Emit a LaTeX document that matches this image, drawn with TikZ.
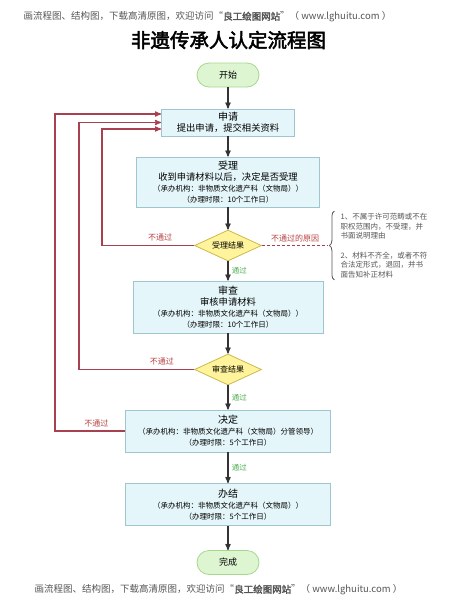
\documentclass[tikz,border=0pt]{standalone}
\usepackage{fontspec}
\setmainfont{Noto Sans CJK SC}[AutoFakeBold=2.5]
\usetikzlibrary{arrows,shapes,positioning,decorations.pathreplacing}

\definecolor{procfill}{HTML}{E4F6F9}
\definecolor{procdraw}{HTML}{9FC6CE}
\definecolor{termfill}{HTML}{DDF5D1}
\definecolor{termdraw}{HTML}{A6D78D}
\definecolor{decfill}{HTML}{FFF49C}
\definecolor{decdraw}{HTML}{CDB84A}
\definecolor{failred}{HTML}{A8404F}
\definecolor{failtxt}{HTML}{B5413F}
\definecolor{passtxt}{HTML}{4CAF50}
\definecolor{inkgray}{HTML}{555555}

\newcommand{\hd}[1]{{\fontsize{10}{11}\selectfont #1}}
\newcommand{\bd}[1]{{\fontsize{9.3}{11}\selectfont #1}}

\tikzstyle{terminal}=[rectangle,rounded corners=12pt,draw=termdraw,fill=termfill,thick,minimum width=62pt,minimum height=24pt,font=\fontsize{9}{11}\selectfont]
\tikzstyle{proc}=[rectangle,draw=procdraw,fill=procfill,thick,align=center,inner sep=2pt,font=\fontsize{7.5}{11}\selectfont]
\tikzstyle{decision}=[diamond,draw=decdraw,fill=decfill,thick,minimum width=67pt,minimum height=31pt,inner sep=1pt,aspect=2,font=\fontsize{8}{10}\selectfont]
\tikzstyle{flow}=[->,draw=black!80,line width=1.2pt]
\tikzstyle{fail}=[->,draw=failred,line width=1.2pt]
\tikzstyle{failtext}=[text=failtxt,font=\fontsize{8}{10}\selectfont]
\tikzstyle{passtext}=[text=passtxt,font=\fontsize{7.5}{9}\selectfont]
\tikzstyle{note}=[align=left,text=inkgray,inner sep=2pt,font=\fontsize{7.5}{9.5}\selectfont]

\begin{document}
\begin{tikzpicture}[x=1pt,y=1pt,>=stealth']
  \useasboundingbox (0,0) rectangle (455,-600);
  % header and title
  \node [text=inkgray,font=\fontsize{9.5}{12}\selectfont] (head) at (207.5,-17) {画流程图、结构图，下载高清原图，欢迎访问“\textbf{良工绘图网站}”（ www.lghuitu.com ）};
  \node [font=\fontsize{19.5}{24}\selectfont\bfseries] (title) at (228.5,-40) {非遗传承人认定流程图};

  % main flow
  \node [terminal] (start) at (228,-75) {开始};
  \node [proc,minimum width=133pt,minimum height=27pt] (apply) [below of=start,node distance=47.5pt]
        {\hd{申请}\\\bd{提出申请，提交相关资料}};
  \node [proc,minimum width=183pt,minimum height=50pt] (accept) [below of=apply,node distance=59.5pt]
        {\hd{受理}\\\bd{收到申请材料以后，决定是否受理}\\（承办机构：非物质文化遗产科（文物局））\\（办理时限：10个工作日）};
  \node [decision] (check1) [below of=accept,node distance=63.5pt] {受理结果};
  \node [proc,minimum width=190pt,minimum height=52pt] (review) [below of=check1,node distance=61.5pt]
        {\hd{审查}\\\bd{审核申请材料}\\（承办机构：非物质文化遗产科（文物局））\\（办理时限：10个工作日）};
  \node [decision] (check2) [below of=review,node distance=62.5pt] {审查结果};
  \node [proc,minimum width=205pt,minimum height=42pt] (decide) [below of=check2,node distance=61.5pt]
        {\hd{决定}\\（承办机构：非物质文化遗产科（文物局）分管领导）\\（办理时限：5个工作日）};
  \node [proc,minimum width=205pt,minimum height=42pt] (finish) [below of=decide,node distance=73.5pt]
        {\hd{办结}\\（承办机构：非物质文化遗产科（文物局））\\（办理时限：5个工作日）};
  \node [terminal] (done) [below of=finish,node distance=58pt] {完成};

  % reasons for refusal
  \node [note] (reason) [right=76.5pt of check1]
        {1、不属于许可范畴或不在\\职权范围内，不受理，并\\书面说明理由\\[10pt]2、材料不齐全，或者不符\\合法定形式，退回，并书\\面告知补正材料};
  \draw [inkgray,thick,decorate,decoration={brace,amplitude=5pt}]
        ([xshift=-4pt]reason.south west) -- ([xshift=-4pt]reason.north west);
  \coordinate (tip) at ([xshift=-10pt]reason.west);

  % return loops
  \coordinate (loop1) at (102,-245);
  \coordinate (loop2) at (79,-369);
  \coordinate (loop3) at (55,-431);

  \path (start) edge [flow] (apply)
        (apply) edge [flow] (accept)
        (accept) edge [flow] (check1)
        (check1) edge [flow] node [right,passtext] {通过} (review)
        (review) edge [flow] (check2)
        (check2) edge [flow] node [right,passtext] {通过} (decide)
        (decide) edge [flow] node [right,passtext] {通过} (finish)
        (finish) edge [flow] (done);

  \draw [fail] (check1.west) -- node [above,failtext,pos=0.37] {不通过} (check1.west -| loop1) |- ([yshift=-6.5pt]apply.west);
  \draw [fail] (check2.west) -- node [above,failtext,pos=0.28] {不通过} (check2.west -| loop2) |- (apply.west);
  \draw [fail] (decide.west) -- node [above,failtext,pos=0.41] {不通过} (decide.west -| loop3) |- ([yshift=8.5pt]apply.west);
  \draw [draw=failred,line width=1pt,dash pattern=on 3pt off 2pt] (check1.east) -- node [above,failtext] {不通过的原因} (tip);

  % footer
  \node [text=inkgray,font=\fontsize{9.5}{12}\selectfont] (foot) at (218.5,-590) {画流程图、结构图，下载高清原图，欢迎访问“\textbf{良工绘图网站}”（ www.lghuitu.com ）};
\end{tikzpicture}
\end{document}
